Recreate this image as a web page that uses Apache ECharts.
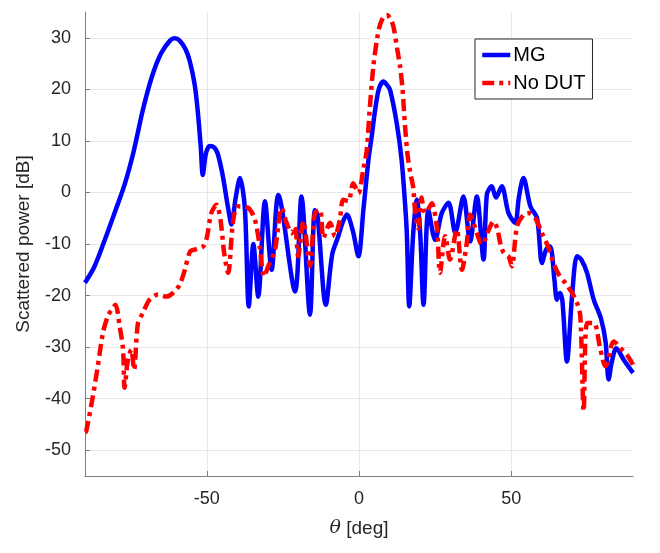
<!DOCTYPE html>
<html lang="en">
<head>
  <meta charset="UTF-8">
  <title>Scattered power</title>
  <style>
    html,
    body {
      padding: 0;
      margin: 0;
      background: #fff;
    }
  </style>
  <script src="https://cdn.jsdelivr.net/npm/echarts@6.0.0/dist/echarts.min.js"></script>
</head>
<body>
  <div id="demo" style="width:660px;height:553px"></div>
  <script>
    // [theta deg, power dB]
    const mgPoints = [
      [-90, -17.5], [-87, -14.5], [-84, -10], [-80, -3.5], [-77, 1.5], [-74, 8], [-71, 16],
      [-68, 22.5], [-65, 27], [-62, 29.5], [-60.5, 29.9], [-59, 29.5], [-57, 27.8], [-55.6, 25.5],
      [-54, 21], [-53, 16], [-52, 9], [-51.3, 3.4], [-50.3, 7.5], [-49, 9], [-47.5, 8.7],
      [-46.4, 7.5], [-45, 4], [-44.1, 1], [-43, -3], [-41.9, -6.2], [-40.5, -1], [-39.1, 2.8],
      [-37.5, -3], [-36.2, -22.1], [-34.7, -10], [-33.1, -20.2], [-30.9, -1.7], [-28.7, -15],
      [-26.5, -0.5], [-21, -19.2], [-18.9, -0.8], [-16.1, -23.7], [-14.5, -3.4], [-13.6, -4.6],
      [-10.9, -21.8], [-8.8, -12], [-6.8, -8.5], [-5.5, -6], [-4, -4.3], [-2, -7.5],
      [-0.2, -12.4], [1.5, -3], [3.1, 6.3], [4.2, 11], [5.3, 16], [6.5, 20], [8, 21.5], [9, 21],
      [10.2, 19.9], [12.4, 13.4], [14, 6.3], [15.1, -2], [15.7, -7.8], [16.5, -22.1], [17.8, -8],
      [19, -1.4], [20.1, -8], [21.2, -21.8], [22.8, -3.4], [25, -9.2], [27.2, -4], [29.4, -2],
      [31.6, -7.8], [34.3, -0.8], [36.5, -9.5], [38.7, -0.8], [40.9, -13], [42, -0.4],
      [43.6, 1.2], [45, -1], [46.9, 1.2], [49.1, -4], [51.3, -5.9], [52.5, -1], [54, 2.8],
      [56.3, -2.7], [58.5, -5], [60.1, -13.7], [61.5, -11], [62.8, -10.5], [64.2, -17],
      [65, -20.8], [66, -19.5], [66.8, -21], [68.3, -32.8], [70, -20], [71.6, -12.4], [73, -13],
      [74.9, -15.6], [77.1, -20.8], [79.5, -24.5], [81, -29], [82, -36.3], [83, -33],
      [84.5, -30.2], [87, -32.5], [90, -35]
    ]
    const noDutPoints = [
      [-90, -46.5], [-89.6, -46.3], [-87.4, -39.5], [-85.8, -33.7], [-84.1, -27.2], [-82.5, -24],
      [-81, -22.5], [-80, -21.8], [-78.6, -26], [-77.5, -30.5], [-77, -37.9], [-75.9, -32.4],
      [-74.8, -30.5], [-73.9, -34.4], [-72.6, -25.3], [-71, -23.4], [-68.8, -20.8], [-66, -19.8],
      [-63.3, -20.2], [-61.1, -19.5], [-58.9, -17.9], [-57.2, -15], [-55.5, -11.5], [-53.4, -11],
      [-51.2, -10.5], [-50, -8.8], [-48.5, -4], [-46.8, -2.4], [-45.5, -5.3], [-44.3, -11.7],
      [-43, -15.6], [-41.3, -5.3], [-39.7, -2.7], [-36.4, -3], [-34.2, -5.3], [-32.6, -10.5],
      [-31.2, -16.3], [-29.8, -14.3], [-27.6, -11.1], [-25.4, -3], [-23.8, -5.9], [-22.1, -7.9],
      [-21, -6.6], [-20, -12.4], [-18.3, -5.6], [-16.1, -14.3], [-14.5, -4], [-12.8, -3.4],
      [-11.7, -8.8], [-9.5, -5.9], [-7.9, -8.5], [-6.3, -5.3], [-5.2, -1.4], [-3.5, -1.7],
      [-1.9, 1.8], [-0.2, -0.1], [1.4, 4.4], [2.5, 8], [3.5, 16], [4.7, 24.4], [6, 30],
      [6.9, 32.5], [8, 34], [9.1, 34.4], [10.2, 33.8], [11.3, 32.2], [12.5, 28], [13.5, 24.4],
      [14.3, 20], [15.1, 13], [16, 7], [16.8, 4], [17.8, 1], [18.5, -4], [19.5, -7], [20.5, -1],
      [21.7, -4], [23, -3], [23.9, -2.1], [25.6, -6.9], [26.6, -15.6], [28.3, -8.5], [29.9, -13],
      [32.1, -7.2], [33.8, -15], [35.4, -9.8], [36.5, -4.3], [38.2, -6.9], [40.4, -10.1],
      [41.4, -9.2], [42.8, -7], [44.2, -5.6], [45.4, -7], [46.4, -9.8], [47.5, -11.7],
      [49.1, -12.4], [50.2, -14.3], [51.9, -6.6], [54.1, -4.3], [55.7, -4], [57.9, -5],
      [60.1, -7.9], [62.3, -10.8], [63.9, -13.7], [65.6, -15.9], [67.8, -17.6], [70, -19.5],
      [71.6, -21.4], [72.7, -24], [73.8, -42.4], [74.9, -25.3], [77.1, -25.3], [79.3, -30.5],
      [80.9, -33.7], [83.7, -28.9], [85.9, -30.2], [88, -31.5], [90, -33.4]
    ]
    const xTicks = [-50, 0, 50]
    const yTicks = [-50, -40, -30, -20, -10, 0, 10, 20, 30]

    const chart = echarts.init(document.getElementById('demo'))
    const font = 'Liberation Sans, Arial, sans-serif'
    const axisGray = '#808080'
    const gridGray = '#e8e8e8'

    chart.setOption({
      animation: false,
      textStyle: { fontFamily: font },
      grid: { left: 85, right: 27, top: 12, bottom: 77 },
      xAxis: {
        type: 'value',
        min: -90,
        max: 90,
        name: '{i|θ} [deg]',
        nameLocation: 'middle',
        nameGap: 43,
        nameTextStyle: {
          fontSize: 19,
          color: '#262626',
          rich: { i: { fontStyle: 'italic', fontSize: 19, fontFamily: 'DejaVu Serif', color: '#262626' } }
        },
        axisLine: { onZero: false, lineStyle: { color: axisGray, width: 1 } },
        axisTick: { inside: true, length: 5, customValues: xTicks, lineStyle: { color: axisGray } },
        axisLabel: { customValues: xTicks, fontSize: 18, color: '#262626', margin: 14 },
        splitLine: { show: true, lineStyle: { color: gridGray } }
      },
      yAxis: {
        type: 'value',
        min: -55,
        max: 35,
        name: 'Scattered power [dB]',
        nameLocation: 'middle',
        nameGap: 52,
        nameTextStyle: { fontSize: 19, color: '#262626' },
        axisLine: { show: true, onZero: false, lineStyle: { color: axisGray, width: 1 } },
        axisTick: { show: true, inside: true, length: 5, customValues: yTicks, lineStyle: { color: axisGray } },
        axisLabel: { customValues: yTicks, fontSize: 18, color: '#262626', margin: 14 },
        splitLine: { show: true, lineStyle: { color: gridGray } }
      },
      legend: {
        left: 475,
        top: 39,
        orient: 'vertical',
        backgroundColor: '#fff',
        borderColor: '#262626',
        borderWidth: 1,
        borderRadius: 0,
        padding: [6, 7, 6, 5],
        itemGap: 8,
        itemWidth: 28,
        itemHeight: 14,
        itemStyle: { opacity: 0 },
        lineStyle: { width: 4.5 },
        textStyle: { fontSize: 20, color: '#000', padding: [0, 0, 0, -2] },
        data: ['MG', 'No DUT']
      },
      series: [
        {
          name: 'MG',
          type: 'line',
          data: mgPoints,
          showSymbol: false,
          symbol: 'none',
          smooth: 0.3,
          lineStyle: { color: '#0000ff', width: 4.5 },
          itemStyle: { color: '#0000ff' },
          z: 2
        },
        {
          name: 'No DUT',
          type: 'line',
          data: noDutPoints,
          showSymbol: false,
          symbol: 'none',
          smooth: 0.3,
          lineStyle: { color: '#ff0000', width: 4.5, type: [12, 5, 4, 5] },
          itemStyle: { color: '#ff0000' },
          z: 3
        }
      ]
    })
  </script>
</body>
</html>
